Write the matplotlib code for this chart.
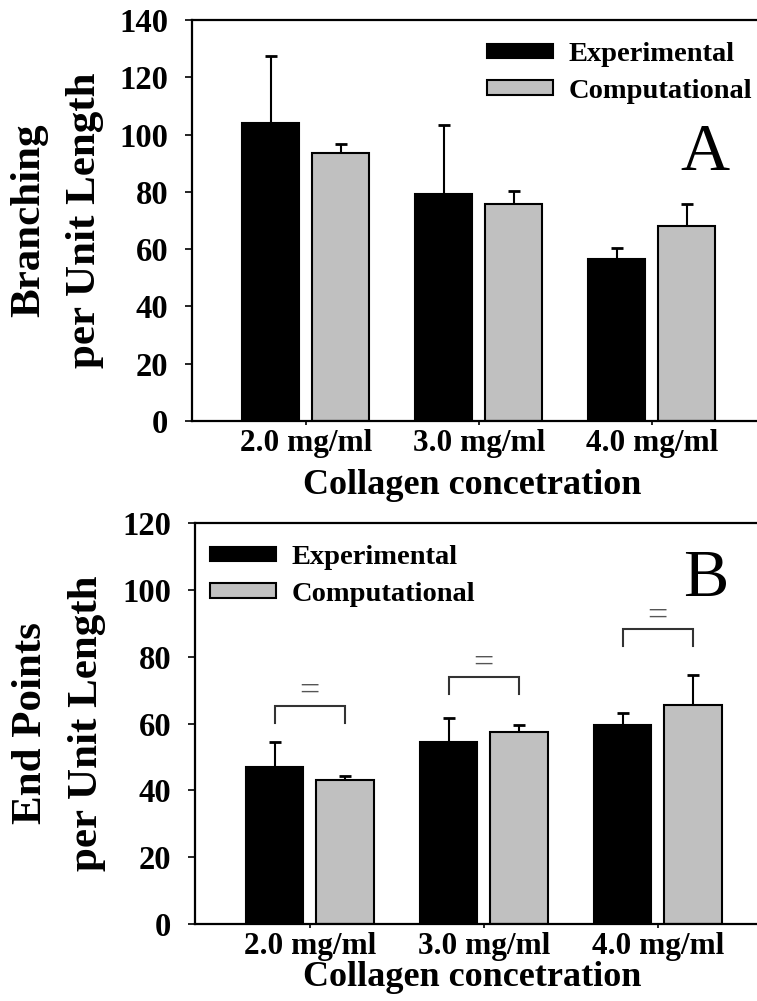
import numpy as np
import matplotlib
matplotlib.use("Agg")
import matplotlib.pyplot as plt

# ---- data ----
groups = ["2.0 mg/ml", "3.0 mg/ml", "4.0 mg/ml"]
series = ["Experimental", "Computational"]

branch_exp = [104.0, 79.3, 56.6]
branch_exp_err = [23.4, 24.0, 3.7]
branch_comp = [93.5, 75.7, 68.1]
branch_comp_err = [3.1, 4.7, 7.7]

end_exp = [47.1, 54.5, 59.5]
end_exp_err = [7.4, 7.0, 3.5]
end_comp = [43.1, 57.4, 65.5]
end_comp_err = [1.3, 2.3, 9.0]

# comparison brackets (panel B): top of bracket, bottom of legs, "=" height
bracket_top = [65.3, 73.9, 88.3]
bracket_leg = [60.2, 68.8, 83.2]
bracket_sign = [69.5, 77.8, 91.9]

# ---- style ----
SERIF = "Liberation Serif"
plt.rcParams["font.family"] = [SERIF, "DejaVu Serif"]
EXP_COLOR = "#000000"
COMP_COLOR = "#c0c0c0"
BAR_W = 0.33
OFFSET = 0.2025
XLIM = (-0.66, 2.62)

fig = plt.figure(figsize=(7.57, 10.01), dpi=100)
W, H = 757.0, 1001.0

def px_axes(left, top, bottom, px_per_unit):
    width = (XLIM[1] - XLIM[0]) * px_per_unit
    return fig.add_axes([left / W, 1 - bottom / H, width / W, (bottom - top) / H])

axA = px_axes(191.7, 20, 421, 173)
axB = px_axes(195, 523, 924, 174)


def draw_panel(ax, exp, exp_err, comp, comp_err, ymax, ylabel, letter,
               legend_anchor, xlabel_pos, ylabel_x):
    x = np.arange(len(groups))
    ax.bar(x - OFFSET, exp, BAR_W, color=EXP_COLOR, edgecolor="black",
           linewidth=1.5, label=series[0], zorder=2)
    ax.bar(x + OFFSET, comp, BAR_W, color=COMP_COLOR, edgecolor="black",
           linewidth=1.5, label=series[1], zorder=2)
    ax.errorbar(x - OFFSET, exp, yerr=[np.zeros(len(exp)), exp_err], fmt="none",
                ecolor="black", elinewidth=1.5, capsize=4, capthick=2, zorder=1)
    ax.errorbar(x + OFFSET, comp, yerr=[np.zeros(len(comp)), comp_err], fmt="none",
                ecolor="black", elinewidth=1.5, capsize=4, capthick=2, zorder=1)

    ax.set_xlim(*XLIM)
    ax.set_ylim(0, ymax)
    ax.set_yticks(np.arange(0, ymax + 1, 20))
    ax.set_xticks(x)
    ax.set_xticklabels(groups)
    for lab in ax.get_xticklabels():
        lab.set_fontsize(22.5)
        lab.set_fontweight("bold")
    for lab in ax.get_yticklabels():
        lab.set_fontsize(23.5)
        lab.set_fontweight("bold")
    ax.tick_params(axis="x", direction="out", length=3, width=1.2, pad=3)
    ax.tick_params(axis="y", direction="out", length=5, width=1.2, pad=12)

    for side in ("left", "bottom", "top"):
        ax.spines[side].set_linewidth(1.6)
    ax.spines["right"].set_visible(False)

    ax.set_xlabel("Collagen concetration", fontsize=26, fontweight="bold", va="center")
    ax.xaxis.set_label_coords(*xlabel_pos)
    ax.set_ylabel(ylabel, fontsize=31, fontweight="bold", va="center",
                  linespacing=1.6)
    ax.yaxis.set_label_coords(ylabel_x, 0.5)

    ax.text(letter[1], letter[2], letter[0], transform=ax.transAxes,
            fontsize=49, ha="center", va="center")

    ax.legend(loc="upper left", bbox_to_anchor=legend_anchor, frameon=False,
              prop={"family": SERIF, "weight": "bold", "size": 20.5},
              handlelength=2.32, handleheight=0.4, handletextpad=0.55,
              labelspacing=0.4, borderpad=0, borderaxespad=0)


draw_panel(axA, branch_exp, branch_exp_err, branch_comp, branch_comp_err,
           140, "Branching\nper Unit Length", ("A", 0.905, 0.668),
           (0.5204, 0.9445), (0.494, -0.162), -0.2374)

draw_panel(axB, end_exp, end_exp_err, end_comp, end_comp_err,
           120, "End Points\nper Unit Length", ("B", 0.895, 0.86),
           (0.0263, 0.9445), (0.486, -0.134), -0.238)

# comparison brackets between paired bars in panel B
xg = np.arange(len(groups))
for i in range(len(groups)):
    xl, xr = xg[i] - OFFSET, xg[i] + OFFSET
    axB.plot([xl, xl, xr, xr],
             [bracket_leg[i], bracket_top[i], bracket_top[i], bracket_leg[i]],
             color="#333333", linewidth=1.5, solid_joinstyle="miter", zorder=3)
    axB.text(xg[i], bracket_sign[i], "=", ha="center", va="center",
             fontsize=26, color="#555555")

fig.savefig("out.png", dpi=100)
